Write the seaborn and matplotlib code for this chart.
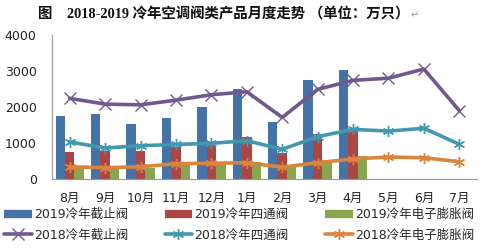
import matplotlib
matplotlib.use("Agg")
import matplotlib.pyplot as plt
from matplotlib.lines import Line2D
import seaborn as sns
import pandas as pd
import numpy as np

months = ["8月", "9月", "10月", "11月", "12月", "1月", "2月", "3月", "4月", "5月", "6月", "7月"]
nan = np.nan
v2019_stop = [1750, 1800, 1530, 1690, 2000, 2500, 1580, 2750, 3030, nan, nan, nan]
v2019_four = [760, 770, 790, 880, 945, 1160, 720, 1250, 1380, nan, nan, nan]
v2019_eev = [320, 310, 310, 470, 425, 470, 360, 500, 640, nan, nan, nan]
v2018_stop = [2240, 2080, 2060, 2190, 2340, 2425, 1710, 2490, 2740, 2800, 3055, 1900]
v2018_four = [1030, 860, 925, 960, 990, 1065, 825, 1175, 1380, 1330, 1410, 965]
v2018_eev = [340, 315, 340, 425, 435, 455, 325, 455, 555, 610, 590, 480]

bar_names = ["2019冷年截止阀", "2019冷年四通阀", "2019冷年电子膨胀阀"]
line_names = ["2018冷年截止阀", "2018冷年四通阀", "2018冷年电子膨胀阀"]
yticks = [0, 1000, 2000, 3000, 4000]
title_text = "图    2018-2019 冷年空调阀类产品月度走势 （单位：万只）"

bar_colors = ["#4572A7", "#AA4643", "#89A54E"]
line_colors = ["#71588F", "#4198AF", "#DB843D"]
line_markers = ["x", (6, 2, 0), (6, 2, 0)]

sns.set_theme(style="white")
plt.rcParams["font.family"] = ["DejaVu Sans", "Noto Sans CJK SC"]

fig = plt.figure(figsize=(4.85, 2.48), dpi=100)
ax = fig.add_axes([52 / 485, 1 - 179 / 248, (477 - 52) / 485, (179 - 35) / 248])

rows = []
for name, vals in zip(bar_names, [v2019_stop, v2019_four, v2019_eev]):
    for m, v in zip(months, vals):
        rows.append({"month": m, "series": name, "value": v})
bars_df = pd.DataFrame(rows)

sns.barplot(data=bars_df, x="month", y="value", hue="series", order=months,
            hue_order=bar_names, palette=bar_colors, width=0.8, gap=0,
            saturation=1, errorbar=None, legend=False, ax=ax, linewidth=0)

for name, vals, c, mk in zip(line_names, [v2018_stop, v2018_four, v2018_eev], line_colors, line_markers):
    df = pd.DataFrame({"month": months, "value": vals})
    sns.pointplot(data=df, x="month", y="value", order=months, color=c,
                  marker=mk, markersize=8, markeredgewidth=1.0,
                  linewidth=2.6, errorbar=None, ax=ax)

ax.set_xlim(-0.5, 11.5)
ax.set_ylim(0, 4000)
ax.set_yticks(yticks)
ax.set_yticklabels([str(t) for t in yticks], fontsize=9, color="#222222")
ax.set_xlabel("")
ax.set_ylabel("")
ax.tick_params(axis="x", labelsize=9, pad=9, length=0, colors="#222222")
ax.tick_params(axis="y", length=0, pad=11)
for s in ["top", "right"]:
    ax.spines[s].set_visible(False)
ax.spines["left"].set_color("#999999")
ax.spines["bottom"].set_color("#999999")
ax.spines["left"].set_linewidth(0.8)
ax.spines["bottom"].set_linewidth(0.8)

fig.text(38 / 485, 1 - 14 / 248, title_text, fontsize=10.4, fontweight="bold",
         family=["Liberation Serif", "Noto Sans CJK SC"], va="center", ha="left", color="#111111")
fig.text(411 / 485, 1 - 15 / 248, "↵", fontsize=7, color="#999999", va="center",
         family=["DejaVu Sans"])

handles = []
labels = []
for i in range(3):
    handles.append(Line2D([0], [0], color=bar_colors[i], lw=6, solid_capstyle="butt"))
    labels.append(bar_names[i])
    handles.append(Line2D([0], [0], color=line_colors[i], lw=2.6, marker=line_markers[i],
                          markersize=8, markeredgewidth=1.0))
    labels.append(line_names[i])

fig.legend(handles, labels, ncol=3, loc="upper left",
           bbox_to_anchor=(4 / 485, 1 - 208 / 248), frameon=False,
           borderaxespad=0, borderpad=0, handlelength=2.2, handletextpad=0.2,
           columnspacing=2.9, labelspacing=0.6,
           prop={"family": ["DejaVu Sans", "Noto Sans CJK SC"], "size": 9.0})

fig.savefig("out.png", dpi=100)
